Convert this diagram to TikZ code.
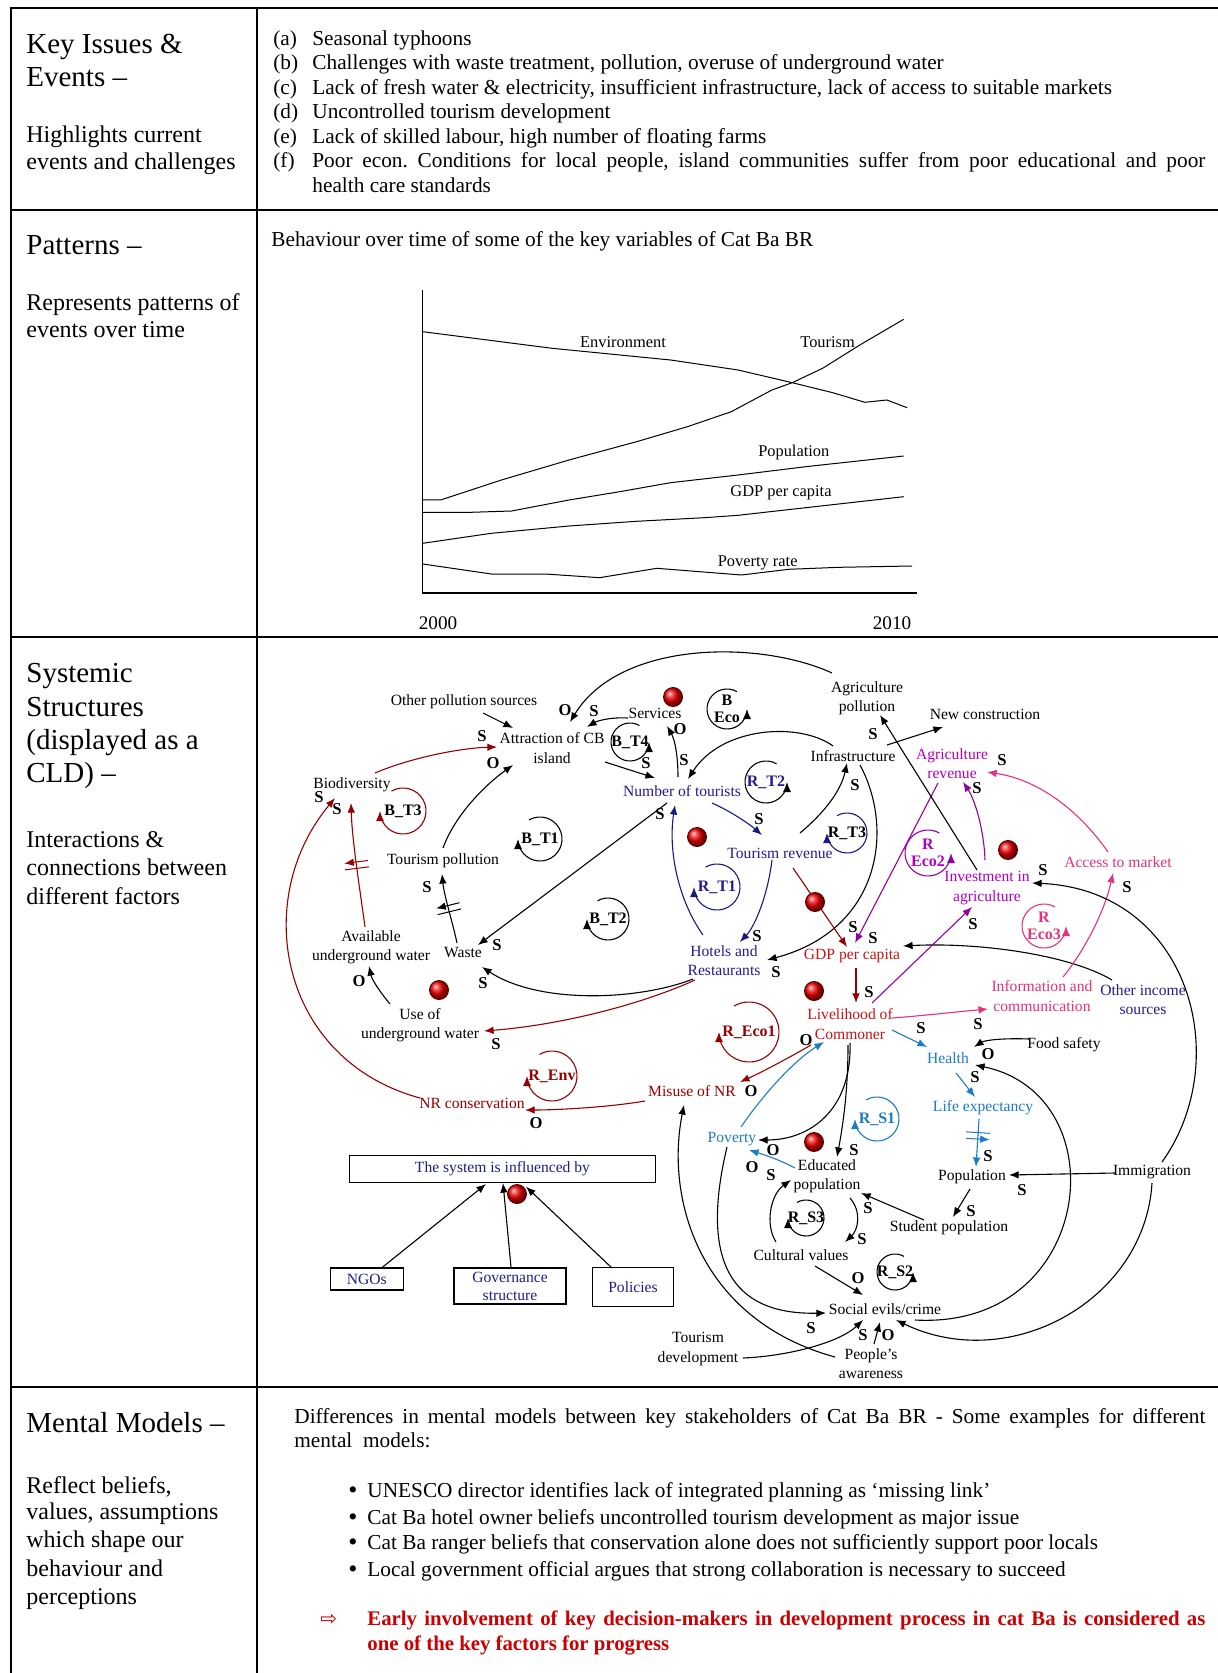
\documentclass[tikz,border=0pt]{standalone}
\usepackage{fontspec}
\setmainfont{Liberation Serif}
\newfontfamily\arrowfont{DejaVu Sans}
\usetikzlibrary{arrows.meta,decorations.markings,calc}
\frenchspacing

\definecolor{navytxt}{RGB}{40,25,150}
\definecolor{navyln}{RGB}{25,25,130}
\definecolor{skyblue}{RGB}{28,124,196}
\definecolor{redtxt}{RGB}{200,20,20}
\definecolor{darkred}{RGB}{150,0,0}
\definecolor{violet}{RGB}{180,0,190}
\definecolor{violetln}{RGB}{150,0,160}
\definecolor{rose}{RGB}{228,50,125}
\definecolor{boxblue}{RGB}{30,30,140}
\definecolor{emph}{RGB}{204,0,0}

% loop marker: arrow head on the left side / on the right side
\newcommand{\loopl}[7]{%
  \draw[loopline,#5] (#2,#3) ++(-120:#4) arc[start angle=-120,end angle=180,radius=#4];
  \node[looplbl,text=#6] (#1) at (#2,#3) {#7};}
\newcommand{\loopr}[7]{%
  \draw[loopline,#5] (#2,#3) ++(-60:#4) arc[start angle=-60,end angle=-360,radius=#4];
  \node[looplbl,text=#6] (#1) at (#2,#3) {#7};}
% polarity sign
\newcommand{\pl}[4]{\node[pol] (#1) at (#2,#3) {#4};}
% delay dot
\newcommand{\rdot}[3]{\node[rdot] (#1) at (#2,#3) {};}

\begin{document}
\begin{tikzpicture}[x=0.5pt,y=-0.5pt,
  rule/.style={line width=1pt},
  vrule/.style={line width=0.75pt},
  head/.style={anchor=base west,inner sep=0,font=\fontsize{14.5}{17}\selectfont},
  desc/.style={anchor=base west,inner sep=0,font=\fontsize{12}{14}\selectfont},
  body/.style={anchor=base west,inner sep=0,font=\fontsize{10.65}{12.3}\selectfont},
  curve/.style={line width=0.5pt},
  series/.style={inner sep=0,font=\fontsize{8.2}{9}\selectfont},
  var/.style={inner sep=1pt,align=center,font=\fontsize{7.8}{9.6}\selectfont},
  pol/.style={inner sep=0,font=\bfseries\fontsize{8.3}{9}\selectfont},
  lnk/.style={line width=0.55pt,-{Latex[length=4.8pt,width=3.8pt]}},
  loopline/.style={line width=0.55pt,-{Latex[length=5pt,width=4pt]}},
  looplbl/.style={inner sep=0,align=center,font=\bfseries\fontsize{8}{8.6}\selectfont},
  rdot/.style={circle,minimum size=9.5pt,inner sep=0,shading=ball,ball color=red!95!black,draw=red!30!black,line width=0.45pt},
  infbox/.style={draw,line width=0.6pt,inner sep=0,align=center,text=boxblue,font=\fontsize{7.8}{9}\selectfont},
  delay/.style={postaction={decorate},decoration={markings,mark=at position #1 with {\draw[line width=0.5pt] (-1.6pt,-6pt)--(-1.6pt,6pt) (1.6pt,-6pt)--(1.6pt,6pt);}}},
]
\useasboundingbox (0,0) rectangle (1218,1673);
\fill[white] (0,0) rectangle (1218,1673);

% ---------- table frame ----------
\draw[rule] (10,8.5) -- (1218,8.5);
\draw[rule] (10,210) -- (1218,210);
\draw[rule] (10,637) -- (1218,637);
\draw[rule] (10,1387) -- (1218,1387);
\draw[vrule] (11,8) -- (11,1673);
\draw[vrule] (257,8) -- (257,1673);

% ---------- row 1: key issues ----------
\node[head] (h1a) at (26,54) {Key Issues \&};
\node[head] (h1b) at (26,87) {Events –};
\node[desc] (d1a) at (26,143) {Highlights current};
\node[desc] (d1b) at (26,170) {events and challenges};

\node[body] (ia) at (273,45.4) {(a)};
\node[body] (ib) at (273,70) {(b)};
\node[body] (ic) at (273,94.5) {(c)};
\node[body] (id) at (273,119) {(d)};
\node[body] (ie) at (273,143.5) {(e)};
\node[body] (if) at (273,168) {(f)};
\node[body] (ta) at (312,45.4) {Seasonal typhoons};
\node[body] (tb) at (312,70) {Challenges with waste treatment, pollution, overuse of underground water};
\node[body] (tc) at (312,94.5) {Lack of fresh water \& electricity, insufficient infrastructure, lack of access to suitable markets};
\node[body] (td) at (312,119) {Uncontrolled tourism development};
\node[body] (te) at (312,143.5) {Lack of skilled labour, high number of floating farms};
\node[body] (tf) at (312,168) {\parbox[t]{446.5pt}{Poor econ. Conditions for local people, island communities suffer from poor educational and poor\linebreak health care standards}};

% ---------- row 2: patterns ----------
\node[head] (h2a) at (26,255) {Patterns –};
\node[desc] (d2a) at (26,311) {Represents patterns of};
\node[desc] (d2b) at (26,338) {events over time};
\node[body] (pt) at (271,247) {Behaviour over time of some of the key variables of Cat Ba BR};

\draw[line width=0.6pt] (422.7,290) -- (422.7,593) -- (917,593);
\draw[curve] (422.7,331.7) -- (552.1,348.3) -- (670.5,360) -- (738.1,370) -- (792.2,382.7) -- (832.7,392.7) -- (864.8,402.3) -- (886.8,400) -- (907.1,407.7);
\draw[curve] (422.7,500) -- (440.6,500) -- (501.4,480) -- (569,460) -- (636.6,441.7) -- (687.4,426.7) -- (731.3,411.7) -- (771.9,390) -- (792.2,382.7) -- (822.6,368.3) -- (859.8,345) -- (903.7,319.3);
\draw[curve] (422.7,512.3) -- (471,512.3) -- (511.6,511) -- (569,500) -- (619.7,491.7) -- (670.5,482.7) -- (738.1,475) -- (805.7,466.7) -- (903.7,456);
\draw[curve] (422.7,543.3) -- (491.3,533.3) -- (569,526) -- (636.6,521.3) -- (704.3,517.7) -- (738.1,515.3) -- (805.7,507.7) -- (903.7,496.7);
\draw[curve] (422.7,564) -- (491.3,574) -- (545.4,574) -- (599.5,577.7) -- (656.9,568.3) -- (741.4,575) -- (788.8,569.3) -- (839.5,567.3) -- (912.2,566);
\node[series] (sEnv) at (623,341.7) {Environment};
\node[series] (sTour) at (827.6,341.7) {Tourism};
\node[series] (sPop) at (793.8,452.3) {Population};
\node[series] (sGdp) at (781,493.3) {GDP per capita};
\node[series] (sPov) at (757.7,562.7) {Poverty rate};
\node[inner sep=0,font=\fontsize{9.6}{11}\selectfont] (y0) at (438,623) {2000};
\node[inner sep=0,font=\fontsize{9.6}{11}\selectfont] (y1) at (892,623) {2010};

% ---------- row 3: systemic structures ----------
\node[head] (h3a) at (26,682) {Systemic};
\node[head] (h3b) at (26,716) {Structures};
\node[head] (h3c) at (26,749) {(displayed as a};
\node[head] (h3d) at (26,782) {CLD) –};
\node[desc] (d3a) at (26,847) {Interactions \&};
\node[desc] (d3b) at (26,875) {connections between};
\node[desc] (d3c) at (26,904) {different factors};

% variables
\node[var] (ops) at (464,702) {Other pollution sources};
\node[var] (attr) at (552,748) {Attraction of CB\\island};
\node[var] (serv) at (655,713) {Services};
\node[var] (bio) at (352,785) {Biodiversity};
\node[var] (tpol) at (443,861) {Tourism pollution};
\node[var] (avail) at (371,947) {Available\\underground water};
\node[var] (waste) at (463,953) {Waste};
\node[var] (use) at (420,1025) {Use of\\underground water};
\node[var,text=darkred] (nrc) at (472,1103) {NR conservation};
\node[var,text=darkred] (misuse) at (692,1091) {Misuse of NR};
\node[var,text=navytxt] (tour) at (682,791) {Number of tourists};
\node[var] (agpol) at (867,698) {Agriculture\\pollution};
\node[var] (infra) at (853,756) {Infrastructure};
\node[var] (newc) at (985,714) {New construction};
\node[var,text=navytxt] (trev) at (780,853) {Tourism revenue};
\node[var,text=navytxt] (hotels) at (724,961) {Hotels and\\Restaurants};
\node[var,text=redtxt] (gdp) at (852,956) {GDP per capita};
\node[var,text=violet] (agrev) at (952,764) {Agriculture\\revenue};
\node[var,text=violet] (invest) at (987,888) {Investment in\\agriculture};
\node[var,text=rose] (access) at (1118,862) {Access to market};
\node[var,text=redtxt] (live) at (850,1024) {Livelihood of\\Commoner};
\node[var,text=rose] (info) at (1042,996) {Information and\\communication};
\node[var,text=navytxt] (other) at (1143,1000) {Other income\\sources};
\node[var] (food) at (1064,1045) {Food safety};
\node[var,text=skyblue] (health) at (948,1058) {Health};
\node[var,text=skyblue] (life) at (983,1108) {Life expectancy};
\node[var,text=skyblue] (poverty) at (732,1139) {Poverty};
\node[var] (edu) at (827,1176) {Educated\\population};
\node[var] (popn) at (972,1177) {Population};
\node[var] (immig) at (1152,1172) {Immigration};
\node[var] (student) at (949,1228) {Student population};
\node[var] (cult) at (801,1255) {Cultural values};
\node[var] (social) at (885,1309) {Social evils/crime};
\node[var] (tdev) at (698,1349) {Tourism\\development};
\node[var] (aware) at (871,1364) {People's\\awareness};

% influences on the system
\node[infbox,minimum width=153pt,minimum height=13.8pt] (sys) at (502.5,1169) {The system is influenced by};
\node[infbox,minimum width=36.5pt,minimum height=11pt] (ngo) at (366.7,1279) {NGOs};
\node[infbox,minimum width=56pt,minimum height=18pt] (gov) at (510,1286) {Governance\\structure};
\node[infbox,minimum width=40.5pt,minimum height=19.5pt] (pol) at (633,1287) {Policies};
\draw[lnk] ([shift={(16,-12)}]ngo.center) -- ([shift={(-16.5,15)}]sys.center);
\draw[lnk] ([shift={(1,-19)}]gov.center) -- ([shift={(0.5,14)}]sys.center);
\draw[lnk] ([shift={(-21,-19)}]pol.center) -- ([shift={(23.5,17.7)}]sys.center);

% causal links
\draw[lnk] ([shift={(19,11)}]ops.center) -- ([shift={(-39,-20)}]attr.center);
\draw[lnk] ([shift={(-35,-25)}]agpol.center) .. controls (760,640) and (620,640) .. ([shift={(18,-26)}]attr.center);
\draw[lnk] ([shift={(-27,5)}]serv.center) .. controls (610,717) and (597,721) .. ([shift={(35,-21)}]attr.center);
\draw[lnk] ([shift={(53,14)}]attr.center) -- ([shift={(-27,-13)}]tour.center);
\draw[lnk] ([shift={(-4,-14)}]tour.center) .. controls (678,757) and (675,740) .. ([shift={(12,13)}]serv.center);
\draw[lnk] ([shift={(-20,-10)}]infra.center) .. controls (800,722) and (722,726) .. ([shift={(6,-12)}]tour.center);
\draw[lnk] ([shift={(-15,12)}]tour.center) -- ([shift={(15,-8)}]waste.center);
\draw[lnk,navyln] ([shift={(30,12)}]tour.center) .. controls (730,811) and (748,823) .. ([shift={(-18,-18)}]trev.center);
\draw[lnk] ([shift={(20,-20)}]trev.center) .. controls (818,818) and (840,795) .. ([shift={(-6,7)}]infra.center);
\draw[lnk] ([shift={(7,9)}]infra.center) .. controls (895,830) and (880,930) .. ([shift={(43,-1)}]hotels.center);
\draw[lnk,navyln] ([shift={(-8,7)}]trev.center) .. controls (768,893) and (756,925) .. ([shift={(16,-19)}]hotels.center);
\draw[lnk,navyln] ([shift={(-21,-26)}]hotels.center) .. controls (678,900) and (668,850) .. ([shift={(-7,14)}]tour.center);
\draw[lnk,darkred] ([shift={(13,15)}]trev.center) -- ([shift={(-5,-9)}]gdp.center);
\draw[lnk,violetln] ([shift={(-14,19)}]agrev.center) -- ([shift={(3,-13)}]gdp.center);
\draw[lnk] ([shift={(-31,-20)}]other.center) .. controls (1070,955) and (980,942) .. ([shift={(51,-10)}]gdp.center);
\draw[lnk,darkred] ([shift={(4,12)}]gdp.center) -- ([shift={(6,-21)}]live.center);
\draw[lnk,violetln] ([shift={(22,-21)}]live.center) -- ([shift={(-15,19)}]invest.center);
\draw[lnk,violetln] ([shift={(-2,-28)}]invest.center) .. controls (984,830) and (975,800) .. ([shift={(11,18)}]agrev.center);
\draw[lnk] ([shift={(-10,-18)}]invest.center) -- ([shift={(13,17)}]agpol.center);
\draw[lnk] ([shift={(34,-11)}]infra.center) -- ([shift={(-42,13)}]newc.center);
\draw[lnk,rose] ([shift={(-10,-10)}]access.center) .. controls (1080,812) and (1040,780) .. ([shift={(35,8)}]agrev.center);
\draw[lnk,rose] ([shift={(21,-19)}]info.center) .. controls (1085,950) and (1105,910) .. ([shift={(-5,11)}]access.center);
\draw[lnk,rose] ([shift={(42,-6)}]live.center) .. controls (920,1016) and (955,1012) .. ([shift={(-54,13)}]info.center);
\draw[lnk] ([shift={(10,-10)}]immig.center) .. controls (1235,1060) and (1190,890) .. ([shift={(45,-5)}]invest.center);
\draw[lnk,skyblue] ([shift={(42,6)}]live.center) -- ([shift={(-21,-11)}]health.center);
\draw[lnk] ([shift={(-35,-6)}]food.center) .. controls (1005,1038) and (985,1040) .. ([shift={(26,-11)}]health.center);
\draw[lnk,skyblue] ([shift={(8,15)}]health.center) -- ([shift={(-8,-11)}]life.center);
\draw[lnk,skyblue,delay=0.35] ([shift={(-4,11)}]life.center) -- ([shift={(4,-10)}]popn.center);
\draw[lnk] ([shift={(-37,1)}]immig.center) -- ([shift={(37,-2)}]popn.center);
\draw[lnk] ([shift={(0,11)}]immig.center) .. controls (1145,1300) and (1010,1375) .. ([shift={(11,11)}]social.center);
\draw[lnk] ([shift={(30,11)}]social.center) .. controls (1095,1330) and (1120,1095) .. ([shift={(27,7)}]health.center);
\draw[lnk] ([shift={(-2,12)}]popn.center) -- ([shift={(4,-11)}]student.center);
\draw[lnk] ([shift={(-25,-8)}]student.center) -- ([shift={(34,17)}]edu.center);
\draw[lnk] ([shift={(0,19)}]live.center) .. controls (852,1110) and (810,1140) .. ([shift={(26,1)}]poverty.center);
\draw[lnk] ([shift={(-2,21)}]live.center) .. controls (848,1095) and (842,1130) .. ([shift={(10,-19)}]edu.center);
\draw[lnk,skyblue] ([shift={(9,-12)}]poverty.center) .. controls (765,1092) and (795,1060) .. ([shift={(-26,18)}]live.center);
\draw[lnk,darkred] ([shift={(-39,21)}]live.center) .. controls (785,1060) and (760,1073) .. ([shift={(48,-9)}]misuse.center);
\draw[lnk,darkred] ([shift={(-47,10)}]misuse.center) .. controls (610,1107) and (560,1110) .. ([shift={(53,7)}]nrc.center);
\draw[lnk,darkred] ([shift={(-52,-5)}]nrc.center) .. controls (280,1060) and (250,900) .. ([shift={(-17,13)}]bio.center);
\draw[lnk,darkred] ([shift={(23,-12)}]bio.center) .. controls (410,758) and (460,748) .. ([shift={(-55,-1)}]attr.center);
\draw[lnk,darkred,delay=0.5] ([shift={(-6,-20)}]avail.center) .. controls (360,890) and (352,840) .. ([shift={(-1,18)}]bio.center);
\draw[lnk,delay=0.5] ([shift={(-6,-10)}]waste.center) .. controls (452,920) and (444,895) .. ([shift={(-1,13)}]tpol.center);
\draw[lnk] ([shift={(0,-13)}]tpol.center) .. controls (455,815) and (485,785) .. ([shift={(-39,17)}]attr.center);
\draw[lnk] ([shift={(-31,18)}]hotels.center) .. controls (640,1000) and (540,1005) .. ([shift={(19,14)}]waste.center);
\draw[lnk,darkred] ([shift={(-29,19)}]hotels.center) .. controls (640,1005) and (560,1025) .. ([shift={(64,6)}]use.center);
\draw[lnk] ([shift={(-30,-21)}]use.center) .. controls (380,992) and (372,980) .. ([shift={(-2,19)}]avail.center);
\draw[lnk] ([shift={(-36,-7)}]aware.center) .. controls (700,1320) and (665,1200) .. ([shift={(-8,14)}]misuse.center);
\draw[lnk] ([shift={(-5,8)}]poverty.center) .. controls (700,1260) and (730,1315) .. ([shift={(-59,4)}]social.center);
\draw[lnk] ([shift={(45,9)}]tdev.center) .. controls (790,1356) and (840,1342) .. ([shift={(-22,11)}]social.center);
\draw[lnk] ([shift={(3,-20)}]aware.center) -- ([shift={(-5,13)}]social.center);
\draw[lnk] ([shift={(14,11)}]cult.center) -- ([shift={(-22,-14)}]social.center);
\draw[lnk,skyblue] ([shift={(-32,-8)}]edu.center) .. controls (780,1160) and (765,1155) .. ([shift={(17,11)}]poverty.center);
\draw[lnk] ([shift={(23,22)}]edu.center) .. controls (862,1212) and (858,1230) .. ([shift={(44,-13)}]cult.center);
\draw[lnk] ([shift={(-25,-13)}]cult.center) .. controls (765,1225) and (770,1195) .. ([shift={(-36,4)}]edu.center);

% feedback loop markers
\loopr{lBTf}{630}{742}{19}{black}{black}{B\_T4}
\loopl{lBTt}{403}{811}{23}{darkred}{black}{B\_T3}
\loopl{lBTo}{540}{839}{22}{black}{black}{B\_T1}
\loopl{lBTw}{608}{919}{21}{black}{black}{B\_T2}
\loopr{lBEco}{727}{709}{20}{black}{black}{B\\Eco}
\loopr{lRTw}{766}{782}{21}{black}{navytxt}{R\_T2}
\loopl{lRTt}{847}{833}{20}{navyln}{black}{R\_T3}
\loopl{lRTo}{717}{887}{23}{navyln}{navytxt}{R\_T1}
\loopr{lREcoB}{928}{853}{23}{violetln}{violet}{R\\Eco2}
\loopr{lREcoC}{1044}{926}{22}{rose}{rose}{R\\Eco3}
\loopl{lREcoA}{749}{1032}{30}{darkred}{darkred}{R\_Eco1}
\loopl{lREnv}{552}{1076}{25}{darkred}{darkred}{R\_Env}
\loopl{lRSo}{877}{1119}{22}{skyblue}{skyblue}{R\_S1}
\loopl{lRSt}{806}{1218}{18}{black}{black}{R\_S3}
\loopr{lRSw}{895}{1272}{18}{black}{black}{R\_S2}

% delay dots
\rdot{dA}{673}{697}
\rdot{dB}{697}{837}
\rdot{dC}{815}{902}
\rdot{dD}{1008}{850}
\rdot{dE}{814}{991}
\rdot{dF}{439}{990}
\rdot{dG}{814}{1142}
\rdot{dH}{517}{1194}

% polarity signs
\pl{pA}{565}{710}{O}
\pl{pB}{594}{711}{S}
\pl{pC}{482}{736}{S}
\pl{pD}{493}{763}{O}
\pl{pE}{680}{729}{O}
\pl{pF}{646}{763}{S}
\pl{pG}{684}{760}{S}
\pl{pH}{319}{797}{S}
\pl{pI}{337}{809}{S}
\pl{pJ}{427}{887}{S}
\pl{pK}{660}{814}{S}
\pl{pL}{497}{945}{S}
\pl{pM}{483}{983}{S}
\pl{pN}{359}{981}{O}
\pl{pO}{496}{1044}{S}
\pl{pP}{536}{1123}{O}
\pl{pQ}{873}{734}{S}
\pl{pR}{855}{785}{S}
\pl{pS}{759}{819}{S}
\pl{pT}{757}{936}{S}
\pl{pU}{853}{927}{S}
\pl{pV}{873}{938}{S}
\pl{pW}{776}{972}{S}
\pl{pX}{869}{992}{S}
\pl{pY}{1002}{760}{S}
\pl{pZ}{977}{788}{S}
\pl{qA}{1043}{870}{S}
\pl{qB}{1127}{887}{S}
\pl{qC}{973}{924}{S}
\pl{qD}{806}{1040}{O}
\pl{qE}{921}{1028}{S}
\pl{qF}{978}{1024}{S}
\pl{qG}{988}{1054}{O}
\pl{qH}{975}{1077}{S}
\pl{qI}{773}{1150}{O}
\pl{qJ}{752}{1167}{O}
\pl{qK}{854}{1150}{S}
\pl{qL}{988}{1156}{S}
\pl{qM}{751}{1091}{O}
\pl{qN}{771}{1175}{S}
\pl{qO}{1022}{1190}{S}
\pl{qP}{868}{1208}{S}
\pl{qQ}{971}{1211}{S}
\pl{qR}{862}{1239}{S}
\pl{qS}{858}{1278}{O}
\pl{qT}{811}{1328}{S}
\pl{qU}{863}{1335}{S}
\pl{qV}{888}{1335}{O}

% ---------- row 4: mental models ----------
\node[head] (h4a) at (26,1432) {Mental Models –};
\node[desc] (d4a) at (26,1493) {Reflect beliefs,};
\node[desc] (d4b) at (26,1519) {values, assumptions};
\node[desc] (d4c) at (26,1547) {which shape our};
\node[desc] (d4d) at (26,1576) {behaviour and};
\node[desc] (d4e) at (26,1604) {perceptions};

\node[body,font=\fontsize{10.65}{12}\selectfont] (mm) at (294,1423) {\parbox[t]{455.5pt}{Differences in mental models between key stakeholders of Cat Ba BR - Some examples for different\linebreak mental\ \ models:}};
\node[body,font=\fontsize{13}{13}\selectfont] (bA) at (348,1498) {\textbullet};
\node[body,font=\fontsize{13}{13}\selectfont] (bB) at (348,1525) {\textbullet};
\node[body,font=\fontsize{13}{13}\selectfont] (bC) at (348,1550) {\textbullet};
\node[body,font=\fontsize{13}{13}\selectfont] (bD) at (348,1577) {\textbullet};
\node[body] (mA) at (367,1497) {UNESCO director identifies lack of integrated planning as `missing link'};
\node[body] (mB) at (367,1524) {Cat Ba hotel owner beliefs uncontrolled tourism development as major issue};
\node[body] (mC) at (367,1549) {Cat Ba ranger beliefs that conservation alone does not sufficiently support poor locals};
\node[body] (mD) at (367,1576) {Local government official argues that strong collaboration is necessary to succeed};
\node[body,text=emph,font=\fontsize{10}{11}\selectfont] (arw) at (320,1625) {\arrowfont ⇨};
\node[body,text=emph,font=\bfseries\fontsize{10.4}{12.5}\selectfont] (concl) at (367,1625) {\parbox[t]{419pt}{Early involvement of key decision-makers in development process in cat Ba is considered as\linebreak one of the key factors for progress}};
\end{tikzpicture}
\end{document}
